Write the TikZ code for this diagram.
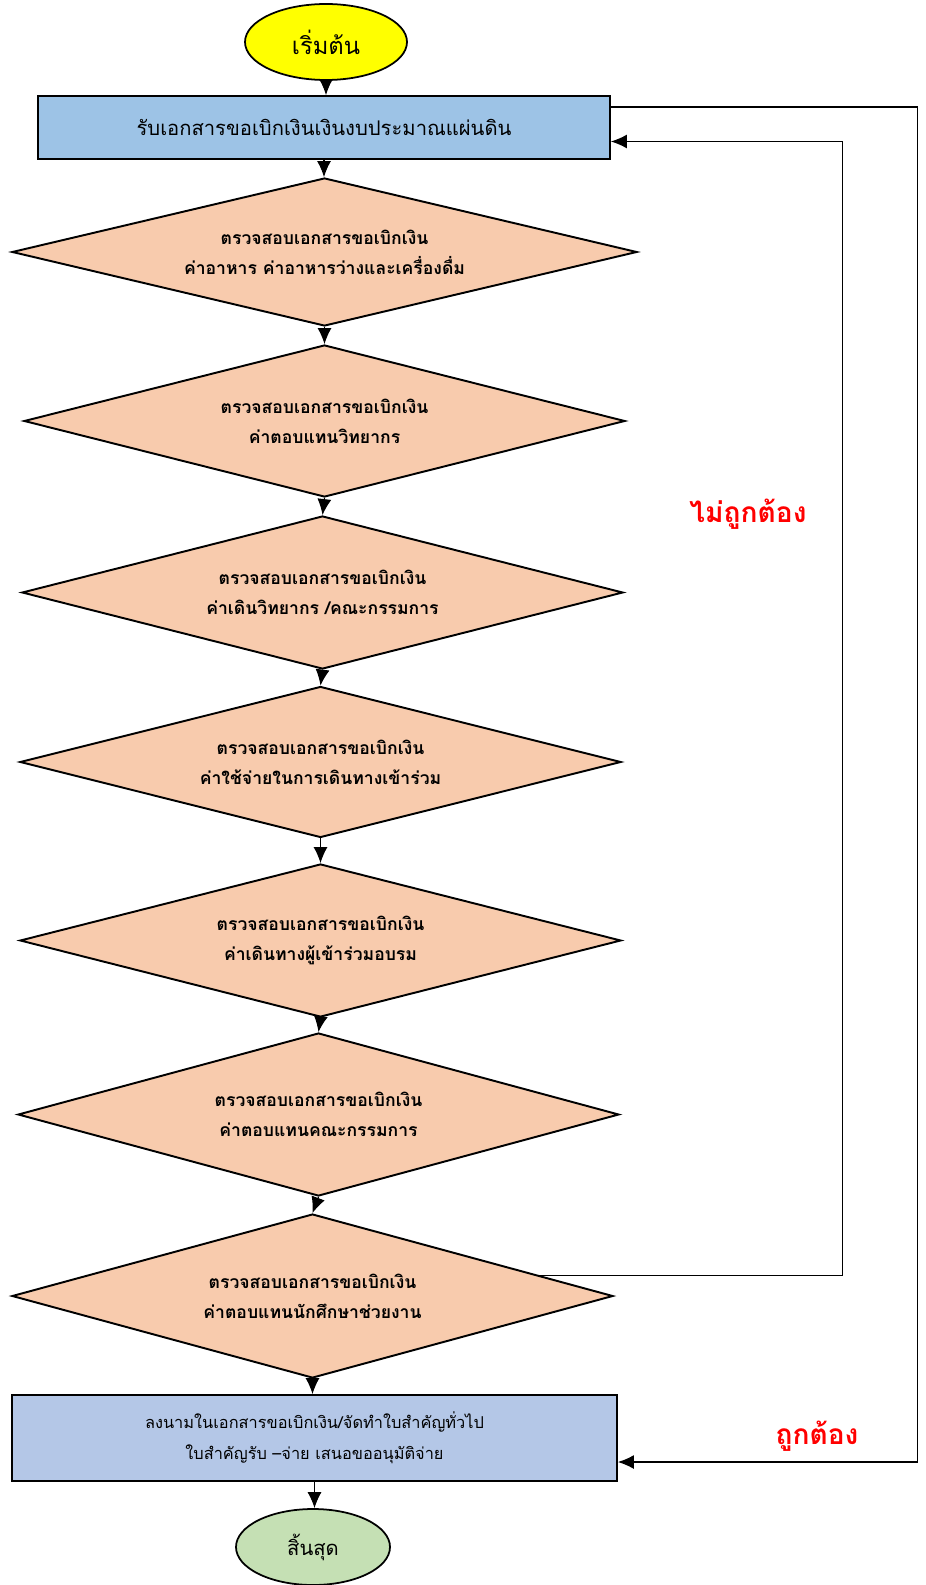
\documentclass[tikz,border=0pt]{standalone}
\usepackage{fontspec}
\usepackage{tikz}
\usetikzlibrary{shapes.geometric,arrows.meta,calc}
\newfontfamily\thaifont[Script=Thai]{Loma}
\definecolor{startyellow}{RGB}{255,255,0}
\definecolor{receiveblue}{RGB}{157,195,230}
\definecolor{checkpeach}{RGB}{248,203,173}
\definecolor{signblue}{RGB}{180,199,231}
\definecolor{endgreen}{RGB}{197,224,180}
\definecolor{judgered}{RGB}{255,0,0}

\begin{document}
\begin{tikzpicture}[
  terminal/.style={ellipse,draw=black,line width=1pt,inner sep=0pt},
  procbox/.style={rectangle,draw=black,line width=1.1pt,inner sep=0pt,align=center},
  decision/.style={diamond,aspect=4,draw=black,line width=1.1pt,fill=checkpeach,inner sep=0pt,
    minimum width=12.02cm,align=center,font=\thaifont\bfseries\fontsize{10}{17}\selectfont},
  flowline/.style={line width=0.6pt,-{Latex[length=3.2mm,width=2.8mm]}},
  judgelabel/.style={text=judgered,font=\thaifont\bfseries\fontsize{16}{19}\selectfont}
]
\useasboundingbox (0,0) rectangle (18.5,-31.7);
% Start and first box
\node[terminal,fill=startyellow,minimum width=3.24cm,minimum height=1.52cm,
  font=\thaifont\fontsize{13.5}{16}\selectfont] (start) at (6.52,-0.84) {เริ่มต้น};
\node[procbox,fill=receiveblue,minimum width=11.44cm,minimum height=1.26cm,
  font=\thaifont\fontsize{11.5}{14}\selectfont] (receive) at (6.48,-2.55) {รับเอกสารขอเบิกเงินเงินงบประมาณแผ่นดิน};
% The seven checks
\node[decision,minimum width=12.5cm,minimum height=2.96cm] (food) at (6.49,-5.04)
  {ตรวจสอบเอกสารขอเบิกเงิน\\ค่าอาหาร ค่าอาหารว่างและเครื่องดื่ม};
\node[decision,minimum height=3.04cm] (speaker) at (6.49,-8.42)
  {ตรวจสอบเอกสารขอเบิกเงิน\\ค่าตอบแทนวิทยากร};
\node[decision,minimum height=3.06cm] (travel) at (6.45,-11.85)
  {ตรวจสอบเอกสารขอเบิกเงิน\\ค่าเดินวิทยากร /คณะกรรมการ};
\node[decision,minimum height=3.02cm] (joining) at (6.41,-15.24)
  {ตรวจสอบเอกสารขอเบิกเงิน\\ค่าใช้จ่ายในการเดินทางเข้าร่วม};
\node[decision,minimum height=3.06cm] (trainee) at (6.41,-18.81)
  {ตรวจสอบเอกสารขอเบิกเงิน\\ค่าเดินทางผู้เข้าร่วมอบรม};
\node[decision,minimum height=3.26cm] (committee) at (6.37,-22.29)
  {ตรวจสอบเอกสารขอเบิกเงิน\\ค่าตอบแทนคณะกรรมการ};
\node[decision,minimum height=3.28cm] (student) at (6.25,-25.92)
  {ตรวจสอบเอกสารขอเบิกเงิน\\ค่าตอบแทนนักศึกษาช่วยงาน};
% Signing box and end
\node[procbox,fill=signblue,minimum width=12.1cm,minimum height=1.72cm,
  font=\thaifont\fontsize{9.3}{17.5}\selectfont] (sign) at (6.29,-28.76)
  {ลงนามในเอกสารขอเบิกเงิน/จัดทำใบสำคัญทั่วไป\\ใบสำคัญรับ –จ่าย เสนอขออนุมัติจ่าย};
\node[terminal,fill=endgreen,minimum width=3.08cm,minimum height=1.52cm,
  font=\thaifont\fontsize{11.5}{14}\selectfont] (finish) at (6.26,-30.94) {สิ้นสุด};
% Main flow
\draw[flowline] (start.south) -- (start.south |- receive.north);
\draw[flowline] (receive.south) -- (receive.south |- food.north);
\draw[flowline] (food.south) -- (speaker.north);
\draw[flowline] (speaker.south) -- (travel.north);
\draw[flowline] (travel.south) -- (joining.north);
\draw[flowline] (joining.south) -- (trainee.north);
\draw[flowline] (trainee.south) -- (committee.north);
\draw[flowline] (committee.south) -- (student.north);
\draw[flowline] (student.south) -- (student.south |- sign.north);
\draw[flowline] (sign.south) -- (sign.south |- finish.north);
% Back loop when wrong
\coordinate (wrongtop) at (16.85,-2.83);
\coordinate (wrongout) at ($(student.north east)!0.5!(student.east)$);
\draw[flowline] (wrongout) -- (wrongout -| wrongtop) -- (wrongtop) -- (wrongtop -| receive.east);
% Loop when right
\coordinate (righttop) at (18.35,-2.14);
\coordinate (rightbottom) at (18.35,-29.24);
\draw[flowline] (righttop -| receive.east) -- (righttop) -- (rightbottom) -- (rightbottom -| sign.east);
% Labels
\node[judgelabel] (wronglabel) at (14.96,-10.28) {ไม่ถูกต้อง};
\node[judgelabel] (rightlabel) at (16.34,-28.72) {ถูกต้อง};
\end{tikzpicture}
\end{document}
